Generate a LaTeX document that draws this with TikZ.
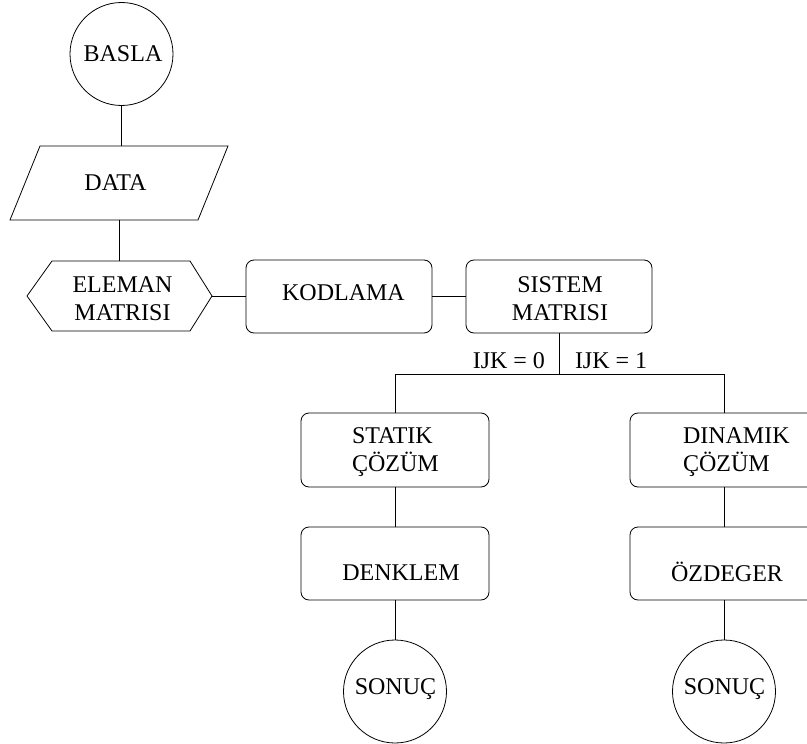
\documentclass[tikz,border=0pt]{standalone}
\usepackage{fontspec}
\setmainfont{Liberation Serif}
\begin{document}
\begin{tikzpicture}[x=1pt,y=-1pt, line width=0.8pt,
  every node/.style={font=\fontsize{24}{28}\selectfont, inner sep=0pt, outer sep=0pt},
  circ/.style={draw, circle, minimum size=103pt},
  rbox/.style={draw, rounded corners=8pt, minimum width=188pt, minimum height=74pt},
  ghost/.style={minimum width=#1},
  txt/.style={align=center}
]
\useasboundingbox (0,0) rectangle (807,744);
\clip (0,0) rectangle (807,744);
% shapes
\node[circ] (basla) at (121.5,54) {};
\node[ghost=218pt, minimum height=74pt] (data) at (119,183) {};
\draw ([xshift=30pt]data.north west) -- (data.north east) -- ([xshift=-30pt]data.south east) -- (data.south west) -- cycle;
\node[ghost=185pt, minimum height=70pt] (elem) at (119.5,296) {};
\draw (elem.west) -- ([xshift=25pt]elem.north west) -- ([xshift=-22pt]elem.north east) -- (elem.east) -- ([xshift=-22pt]elem.south east) -- ([xshift=25pt]elem.south west) -- cycle;
\node[rbox, minimum width=186pt, minimum height=73pt] (kod) at (339,296.5) {};
\node[rbox, minimum width=186pt, minimum height=73pt] (sis) at (559,296.5) {};
\node[rbox] (stat) at (395,450) {};
\node[rbox] (dyn) at (724,450) {};
\node[rbox, minimum height=73pt] (denk) at (395,563.5) {};
\node[rbox, minimum height=73pt] (ozd) at (724,563.5) {};
\node[circ] (son1) at (395,691.5) {};
\node[circ] (son2) at (724,691.5) {};
% texts
\node[txt] (tbasla) at (123,53.5) {BASLA};
\node[txt] (tdata) at (115.5,182.5) {DATA};
\node[txt] (telem) at (122.5,298.5) {ELEMAN\\MATRISI};
\node[txt] (tkod) at (343.5,292.5) {KODLAMA};
\node[txt] (tsis) at (560,298.5) {SISTEM\\MATRISI};
\node[align=left, anchor=north west] (tstat) at (352,428) {STATIK\\ÇÖZÜM};
\node[align=left, anchor=north west] (tdyn) at (683,428) {DINAMIK\\ÇÖZÜM};
\node[txt] (tdenk) at (401,572.5) {DENKLEM};
\node[txt] (tozd) at (727,572) {ÖZDEGER};
\node[txt] (tson1) at (395.5,689) {SONUÇ};
\node[txt] (tson2) at (724.5,689.5) {SONUÇ};
\node[anchor=base east] (ijk0) at (545,368) {IJK = 0};
\node[anchor=base west] (ijk1) at (575,368) {IJK = 1};
% connectors
\coordinate (jn) at (558,374);
\coordinate (jl) at (stat.north |- jn);
\coordinate (jr) at (dyn.north |- jn);
\draw (basla.south) -- (basla.south |- data.north);
\draw (data.south) -- (data.south |- elem.north);
\draw (elem.east) -- (elem.east -| kod.west);
\draw (kod.east) -- (sis.west);
\draw (sis.south |- sis.south) -- (sis.south |- jn);
\draw (jl) -- (jr);
\draw (jl) -- (stat.north);
\draw (jr) -- (dyn.north);
\draw (stat.south) -- (denk.north);
\draw (denk.south) -- (son1.north);
\draw (dyn.south) -- (ozd.north);
\draw (ozd.south) -- (son2.north);
\end{tikzpicture}
\end{document}
